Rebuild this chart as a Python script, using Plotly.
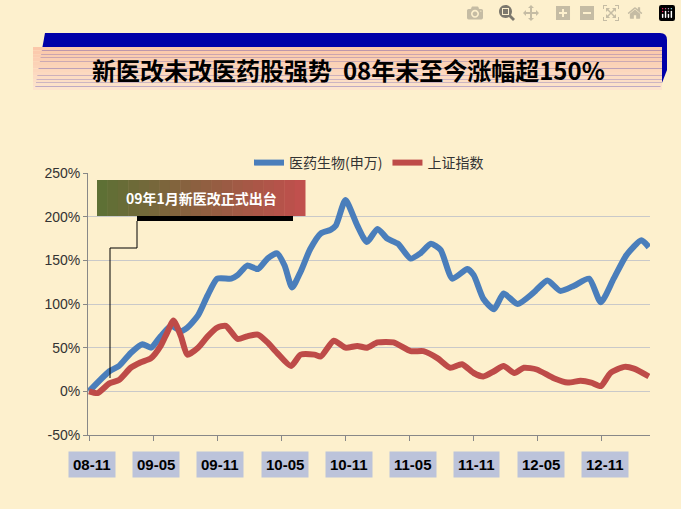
import plotly.graph_objects as go

# months since 2008-11
blue_x = [0, 1.9, 2.8, 3.9, 5.0, 5.8, 6.7, 7.7, 8.6, 9.2, 10.2, 11.1, 12.0, 13.3, 13.9, 14.8, 15.8, 16.7, 17.6, 18.3, 19.0, 19.8, 20.7, 21.7, 22.6, 23.1, 24.0, 25.1, 26.0,
          27.0, 27.9, 28.9, 30.1, 31.0, 32.0, 32.9, 34.0, 35.4, 36.0, 36.9, 37.9, 38.8, 40.1, 41.6, 42.9, 44.1, 45.4, 46.8, 47.9, 49.1, 50.3, 51.7, 52.4]
blue_y = [0, 23, 29, 44, 54, 50, 63, 75, 69, 73, 87, 110, 129, 129, 133, 144, 140, 152, 158, 144, 119, 137, 163, 181, 185, 190, 219, 190, 171,
          186, 175, 169, 152, 158, 169, 162, 129, 140, 133, 106, 94, 112, 100, 113, 127, 115, 121, 129, 102, 129, 156, 173, 165]
red_x = [0, 0.8, 1.9, 2.8, 3.9, 4.8, 5.8, 6.7, 7.3, 7.9, 8.6, 9.2, 10.2, 11.1, 12.0, 12.8, 13.9, 14.8, 15.8, 16.7, 17.6, 18.9, 19.8, 21.1, 21.7, 22.9, 24.0, 25.1, 26.0,
         27.0, 28.5, 30.1, 31.3, 32.6, 33.8, 34.9, 36.0, 36.9, 37.9, 38.8, 39.8, 40.7, 41.9, 43.5, 44.8, 46.0, 47.0, 47.9, 48.8, 50.1, 51.0, 52.4]
red_y = [0, -2, 9, 13, 27, 33, 38, 52, 67, 81, 63, 42, 50, 63, 73, 75, 60, 63, 65, 56, 44, 29, 42, 42, 40, 58, 50, 52, 50,
         56, 56, 46, 46, 38, 27, 31, 21, 17, 23, 29, 21, 27, 25, 15, 10, 12, 10, 6, 21, 28, 26, 17]
tick_vals = [0, 6, 12, 18, 24, 30, 36, 42, 48]
tick_text = ["08-11", "09-05", "09-11", "10-05", "10-11", "11-05", "11-11", "12-05", "12-11"]
y_ticks = [-50, 0, 50, 100, 150, 200, 250]

W, H = 681, 509
L, R, T, B = 88, 31, 173, 74
pw, ph = W - L - R, H - T - B
def px(x): return (x - L) / pw
def py(y): return (H - B - y) / ph

fig = go.Figure()
fig.add_trace(go.Scatter(x=blue_x, y=blue_y, mode="lines", name="医药生物(申万)",
                         line=dict(color="#4A7EBB", width=6, shape="spline", smoothing=0.6)))
fig.add_trace(go.Scatter(x=red_x, y=red_y, mode="lines", name="上证指数",
                         line=dict(color="#BE4B48", width=6, shape="spline", smoothing=0.6)))

shapes = [
    dict(type="path", xref="paper", yref="paper",
         path=f"M {px(35)},{py(88)} L {px(45)},{py(33)} L {px(660)},{py(33)} Q {px(667)},{py(33)} {px(667)},{py(40)} L {px(667)},{py(70)} L {px(660)},{py(88)} Z",
         fillcolor="#0000A8", line=dict(width=0), layer="below"),
]
# title box with vertical gradient (pink -> lighter)
n = 12
for i in range(n):
    f = i / (n - 1)
    c = (int(251 + (253 - 251) * f), int(200 + (228 - 200) * f), int(170 + (205 - 170) * f))
    y0 = 47 + (90 - 47) * i / n
    y1 = 47 + (90 - 47) * (i + 1) / n
    shapes.append(dict(type="rect", xref="paper", yref="paper", x0=px(33), x1=px(662), y0=py(y1), y1=py(y0),
                       fillcolor=f"rgb{c}", line=dict(width=0), layer="below"))
# annotation box with horizontal gradient (green -> red)
n = 20
for i in range(n):
    f = i / (n - 1)
    c = (int(94 + (192 - 94) * f), int(112 + (80 - 112) * f), int(53 + (77 - 53) * f))
    x0 = 97 + (305 - 97) * i / n
    x1 = 97 + (305 - 97) * (i + 1) / n + 0.5
    shapes.append(dict(type="rect", xref="paper", yref="paper", x0=px(x0), x1=px(x1), y0=py(216), y1=py(180),
                       fillcolor=f"rgb{c}", line=dict(width=0)))
shapes += [
    dict(type="rect", xref="paper", yref="paper", x0=px(137), x1=px(293), y0=py(221), y1=py(216),
         fillcolor="black", line=dict(width=0)),
    dict(type="path", xref="paper", yref="paper",
         path=f"M {px(137)},{py(221)} L {px(137)},{py(248)} L {px(110)},{py(248)} L {px(110)},{py(378)}",
         line=dict(color="black", width=1)),
]
annotations = [
    dict(xref="paper", yref="paper", x=px(348), y=py(69), xanchor="center", yanchor="middle",
         text="<b>新医改未改医药股强势  08年末至今涨幅超150%</b>",
         showarrow=False, font=dict(size=24, color="black", family="Noto Sans CJK SC")),
    dict(xref="paper", yref="paper", x=px(201), y=py(198), xanchor="center", yanchor="middle",
         text="<b>09年1月新医改正式出台</b>",
         showarrow=False, font=dict(size=14, color="white", family="Noto Sans CJK SC")),
]
for v, t in zip(tick_vals, tick_text):
    annotations.append(dict(xref="x", yref="paper", x=v + 0.3, y=py(464), xanchor="center", yanchor="middle",
                             text=f"<b>{t}</b>", showarrow=False, bgcolor="#BCC3DA", borderpad=4,
                             font=dict(size=15, color="black", family="Liberation Sans")))

fig.update_layout(
    width=W, height=H, margin=dict(l=L, r=R, t=T, b=B),
    paper_bgcolor="#FDF0CD", plot_bgcolor="#FDF0CD",
    shapes=shapes, annotations=annotations,
    legend=dict(orientation="h", x=0.5, xanchor="center", y=py(147), yanchor="top",
                font=dict(size=14, color="#333", family="Noto Sans CJK SC"), bgcolor="rgba(0,0,0,0)"),
    xaxis=dict(range=[-0.1, 52.5], tickvals=tick_vals, ticktext=[""] * len(tick_vals), ticks="outside",
               ticklen=5, tickcolor="#888", showgrid=False, zeroline=False, showline=True, linecolor="#888"),
    yaxis=dict(range=[-50, 250], tickvals=y_ticks, ticktext=[f"{v}%" for v in y_ticks], ticks="outside",
               ticklen=4, tickcolor="#888", showgrid=True, gridcolor="#C9C9C9", zeroline=False,
               showline=True, linecolor="#888", tickfont=dict(size=14, color="#333", family="Liberation Sans")),
    showlegend=True,
)
fig.write_html("out.html", post_script="document.body.style.margin='0';document.body.style.background='#FDF0CD';")
